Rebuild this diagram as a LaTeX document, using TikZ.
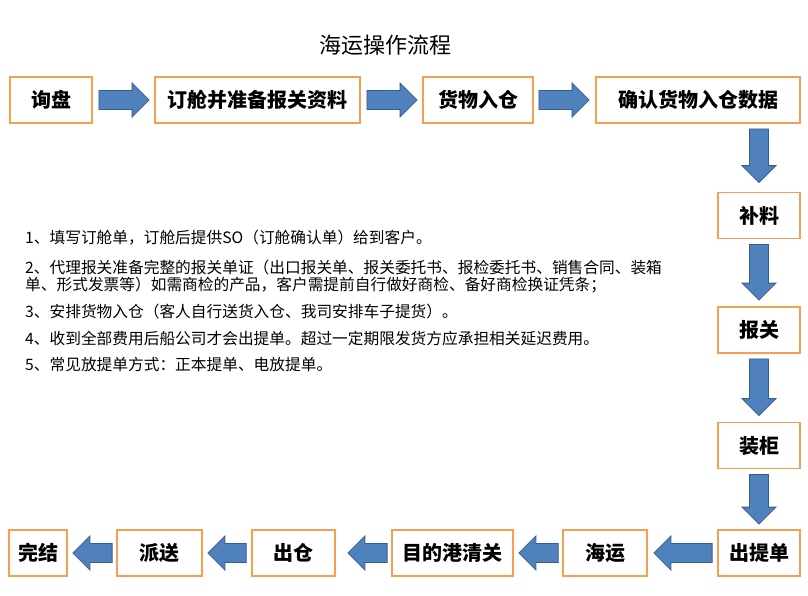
\documentclass[tikz,border=0pt]{standalone}
\usepackage{fontspec}
\newfontfamily\cjk{Noto Sans CJK SC}
\usetikzlibrary{calc}

\definecolor{boxline}{RGB}{245,160,80}
\definecolor{arrowfill}{RGB}{79,129,189}
\definecolor{arrowline}{RGB}{56,93,138}

\begin{document}
\begin{tikzpicture}[
    x=1pt, y=-1pt,
    box/.style={rectangle, draw=boxline, line width=1.8pt, fill=white, minimum height=46pt, inner sep=0pt, font=\cjk\bfseries\fontsize{20}{20}\selectfont},
    blockarrow/.style={draw=arrowline, fill=arrowfill, line width=0.8pt, to path={
        let \p1=(\tikztostart), \p2=(\tikztotarget),
            \n1={atan2(\y2-\y1,\x2-\x1)}, \n2={veclen(\x2-\x1,\y2-\y1)} in
        {[shift={(\p1)}, rotate=\n1]
        (0,9.5) -- (\n2-17,9.5) -- (\n2-17,17) -- (\n2,0) -- (\n2-17,-17) -- (\n2-17,-9.5) -- (0,-9.5) -- cycle}}},
    note/.style={anchor=west, inner sep=0pt, font=\cjk\fontsize{15.7}{17}\selectfont}
]
    \fill[white] (0,0) rectangle (808,595);
    \useasboundingbox (0,0) rectangle (808,595);

    % Title
    \node[font=\cjk\fontsize{22}{22}\selectfont] (title) at (385,45) {海运操作流程};

    % Steps
    \node[box, minimum width=82pt] (inquiry) at (51,100) {询盘};
    \node[box, minimum width=205pt] (booking) at (257.5,100) {订舱并准备报关资料};
    \node[box, minimum width=110pt] (cargoin) at (478,100) {货物入仓};
    \node[box, minimum width=204pt] (confirm) at (698,100) {确认货物入仓数据};
    \node[box, minimum width=82pt] (supplement) at (759,215.5) {补料};
    \node[box, minimum width=82pt] (customs) at (759,330) {报关};
    \node[box, minimum width=82pt] (loading) at (759,445.5) {装柜};
    \node[box, minimum width=82pt] (bl) at (759,553) {出提单};
    \node[box, minimum width=84pt] (shipping) at (605,553) {海运};
    \node[box, minimum width=121pt] (clearance) at (452.5,553) {目的港清关};
    \node[box, minimum width=83pt] (outwh) at (293.5,553) {出仓};
    \node[box, minimum width=85pt] (delivery) at (159.5,553) {派送};
    \node[box, minimum width=58pt] (finish) at (38,553) {完结};

    % Arrows
    \draw[blockarrow] ([xshift=6pt]inquiry.east) to ([xshift=-5pt]booking.west);
    \draw[blockarrow] ([xshift=6pt]booking.east) to ([xshift=-5pt]cargoin.west);
    \draw[blockarrow] ([xshift=5pt]cargoin.east) to ([xshift=-6pt]confirm.west);
    \draw[blockarrow] ([yshift=-5pt]supplement.north |- confirm.south) to ([yshift=9pt]supplement.north);
    \draw[blockarrow] ([yshift=-5pt]supplement.south) to ([yshift=6pt]customs.north);
    \draw[blockarrow] ([yshift=-5pt]customs.south) to ([yshift=6pt]loading.north);
    \draw[blockarrow] ([yshift=-5pt]loading.south) to ([yshift=5pt]bl.north);
    \draw[blockarrow] ([xshift=-5pt]bl.west) to ([xshift=6pt]shipping.east);
    \draw[blockarrow] ([xshift=-4pt]shipping.west) to ([xshift=5pt]clearance.east);
    \draw[blockarrow] ([xshift=-4pt]clearance.west) to ([xshift=12pt]outwh.east);
    \draw[blockarrow] ([xshift=-5pt]outwh.west) to ([xshift=5pt]delivery.east);
    \draw[blockarrow] ([xshift=-4pt]delivery.west) to ([xshift=5pt]finish.east);

    % Notes
    \node[note] (note1) at (25,238) {1、填写订舱单，订舱后提供SO（订舱确认单）给到客户。};
    \node[note] (note2) at (25,268) {2、代理报关准备完整的报关单证（出口报关单、报关委托书、报检委托书、销售合同、装箱};
    \node[note] (note2b) at (25,285) {单、形式发票等）如需商检的产品，客户需提前自行做好商检、备好商检换证凭条；};
    \node[note] (note3) at (25,312) {3、安排货物入仓（客人自行送货入仓、我司安排车子提货）。};
    \node[note] (note4) at (25,338) {4、收到全部费用后船公司才会出提单。超过一定期限发货方应承担相关延迟费用。};
    \node[note] (note5) at (25,364) {5、常见放提单方式：正本提单、电放提单。};
\end{tikzpicture}
\end{document}
